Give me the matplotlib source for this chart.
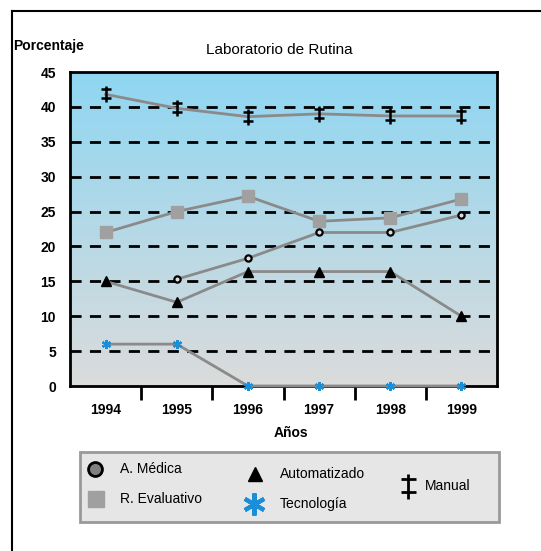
import numpy as np
import matplotlib
matplotlib.use("Agg")
import matplotlib.pyplot as plt
from matplotlib.path import Path
from matplotlib.lines import Line2D
from matplotlib.patches import Rectangle

plt.rcParams['font.family'] = ['Liberation Sans', 'DejaVu Sans']

years = ["1994", "1995", "1996", "1997", "1998", "1999"]
a_medica = [np.nan, 15.3, 18.3, 22.0, 22.0, 24.5]
r_evaluativo = [22.0, 25.0, 27.2, 23.6, 24.1, 26.8]
automatizado = [15.0, 12.0, 16.4, 16.4, 16.4, 10.0]
tecnologia = [6.0, 6.0, 0.0, 0.0, 0.0, 0.0]
manual = [41.8, 39.8, 38.6, 39.0, 38.7, 38.7]
y_ticks = [0, 5, 10, 15, 20, 25, 30, 35, 40, 45]

labels = ["A. Médica", "R. Evaluativo", "Automatizado", "Tecnología", "Manual"]

W, H = 541, 551
fig = plt.figure(figsize=(W / 100, H / 100), dpi=100)

# double cross marker
dc = Path([(0, -1), (0, 1), (-0.6, 0.55), (0.6, 0.55), (-0.6, -0.45), (0.6, -0.45)],
          [Path.MOVETO, Path.LINETO, Path.MOVETO, Path.LINETO, Path.MOVETO, Path.LINETO])

ax = fig.add_axes([70 / W, 1 - 386 / H, 427 / W, 314 / H])
ax.set_xlim(0, 6)
ax.set_ylim(0, 45)

# gradient background
top = np.array([0.56, 0.84, 0.95])
bot = np.array([0.86, 0.86, 0.86])
t = np.linspace(0, 1, 256)[:, None]
grad = (top * (1 - t) + bot * t)[:, None, :]
ax.imshow(grad, extent=[0, 6, 0, 45], aspect='auto', origin='upper', zorder=0)

for y in y_ticks[1:-1]:
    ax.axhline(y, color='black', lw=2, ls=(0, (4, 3)), zorder=1)

x = np.arange(len(years)) + 0.5
lc = '#8a8a8a'
ax.plot(x, r_evaluativo, color=lc, lw=2, marker='s', ms=8, mfc='#a0a0a0', mec='#a0a0a0', zorder=3)
ax.plot(x, a_medica, color=lc, lw=2, marker='o', ms=4.5, mfc='#dddddd', mec='black', mew=1.6, zorder=3)
ax.plot(x, automatizado, color=lc, lw=2, marker='^', ms=7, mfc='black', mec='black', zorder=3)
ax.plot(x, tecnologia, color=lc, lw=2, marker=(6, 2, 0), ms=6.5, mec='#1a8fd8', mew=1.6, zorder=4, clip_on=False)
ax.plot(x, manual, color=lc, lw=2, marker=dc, ms=12, mec='black', mew=1.8, zorder=4)

ax.set_yticks(y_ticks)
ax.set_yticklabels([str(v) for v in y_ticks], fontsize=10, fontweight='bold')
ax.tick_params(axis='y', length=0, pad=10)
ax.set_xticks(x)
ax.set_xticklabels(years, fontsize=10, fontweight='bold')
ax.tick_params(axis='x', which='major', length=0, pad=12)
ax.set_xticks(np.arange(1, 6), minor=True)
ax.tick_params(axis='x', which='minor', length=10, width=2, direction='out')
for s in ax.spines.values():
    s.set_linewidth(2)
    s.set_color('black')

fig.text(279 / W, 1 - 50 / H, "Laboratorio de Rutina", ha='center', va='center', fontsize=11)
fig.text(13 / W, 1 - 46 / H, "Porcentaje", ha='left', va='center', fontsize=10, fontweight='bold')
fig.text(291 / W, 1 - 433 / H, "Años", ha='center', va='center', fontsize=10, fontweight='bold')

# frame
fig.add_artist(Line2D([11.5 / W, 11.5 / W], [0, 1 - 10.5 / H], color='black', lw=1.5))
fig.add_artist(Line2D([11.5 / W, 1], [1 - 10.5 / H, 1 - 10.5 / H], color='black', lw=1.5))

# legend box
lax = fig.add_axes([0, 0, 1, 1], facecolor='none')
lax.set_xlim(0, W)
lax.set_ylim(H, 0)
lax.axis('off')
lax.add_patch(Rectangle((80, 452), 419, 70, facecolor='#e6e6e6', edgecolor='#999999', lw=2))
fs = 10
lax.plot([95], [469], marker='o', ms=10, mfc='#808080', mec='black', mew=2)
lax.text(120, 469, labels[0], va='center', fontsize=fs)
lax.plot([96], [499], marker='s', ms=11, mfc='#a0a0a0', mec='#a0a0a0')
lax.text(120, 499, labels[1], va='center', fontsize=fs)
lax.plot([255], [474], marker='^', ms=10, mfc='black', mec='black')
lax.text(280, 474, labels[2], va='center', fontsize=fs)
lax.plot([254], [504], marker=(6, 2, 0), ms=16, mec='#1a8fd8', mew=3)
lax.text(280, 504, labels[3], va='center', fontsize=fs)
lax.plot([408], [486], marker=dc, ms=18, mec='black', mew=2)
lax.text(425, 486, labels[4], va='center', fontsize=fs)

fig.savefig("out.png", dpi=100)
